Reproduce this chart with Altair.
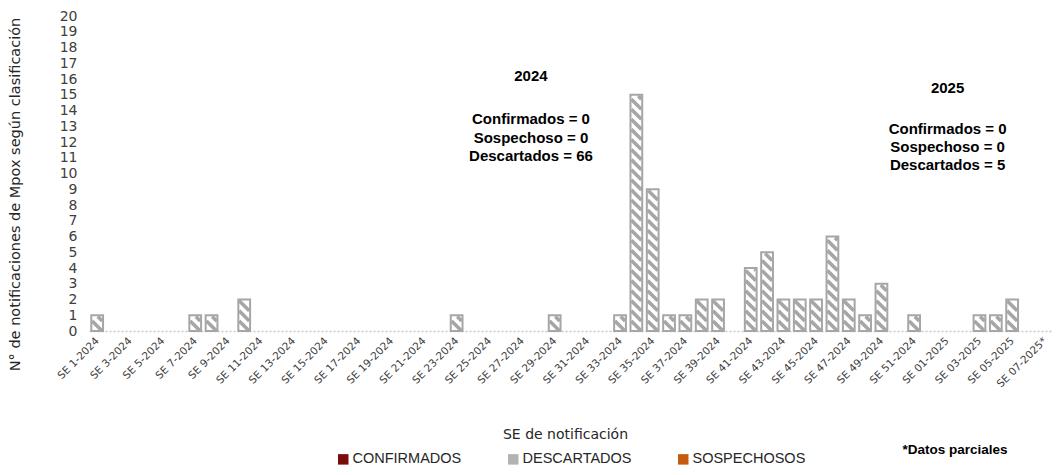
import altair as alt
import pandas as pd

# ---------------- data ----------------
weeks_2024 = [f"SE {i}-2024" for i in range(1, 53)]
weeks_2025 = ["SE 01-2025", "SE 02-2025", "SE 03-2025", "SE 04-2025",
              "SE 05-2025", "SE 06-2025", "SE 07-2025*"]
categories = weeks_2024 + weeks_2025

descartados_2024 = [1, 0, 0, 0, 0, 0, 1, 1, 0, 2,
                    0, 0, 0, 0, 0, 0, 0, 0, 0, 0,
                    0, 0, 1, 0, 0, 0, 0, 0, 1, 0,
                    0, 0, 1, 15, 9, 1, 1, 2, 2, 0,
                    4, 5, 2, 2, 2, 6, 2, 1, 3, 0,
                    1, 0]
descartados_2025 = [0, 0, 1, 1, 2, 0, 0]
descartados = descartados_2024 + descartados_2025

legend_classes = ["CONFIRMADOS", "DESCARTADOS", "SOSPECHOSOS"]
legend_colors = ["#7b0c0c", "#b3b3b3", "#c55a11"]

ann_text = ["2024", "Confirmados = 0", "Sospechoso = 0", "Descartados = 66",
            "2025", "Confirmados = 0", "Sospechoso = 0", "Descartados = 5"]
ann_x = [26.55, 26.55, 26.55, 26.55, 52.05, 52.05, 52.05, 52.05]
ann_y = [16.2, 13.45, 12.25, 11.1, 15.4, 12.85, 11.7, 10.55]

# ---------------- derived tables ----------------
n = len(categories)
HW = 0.36          # half bar width (category units)
IHW = 0.31         # inner half width for hatch
bar_rows = []
for i, v in enumerate(descartados):
    if v > 0:
        bar_rows.append({"cat": categories[i], "x0": i - HW, "x1": i + HW, "v": v, "cls": "DESCARTADOS"})
bars_df = pd.DataFrame(bar_rows)

# diagonal hatch segments clipped inside each bar (styling derived from values)
D = 0.64   # vertical drop across the bar
P = 0.64   # vertical period
hatch = []
for r in bar_rows:
    i = (r["x0"] + r["x1"]) / 2
    top = r["v"] - 0.08
    k = -3
    while True:
        yl = k * P + D
        if yl - D > top:
            break
        t0 = max(0.0, (yl - top) / D)
        t1 = min(1.0, yl / D)
        if t1 > t0:
            hatch.append({"hx1": i - IHW + t0 * 2 * IHW, "hy1": yl - t0 * D,
                          "hx2": i - IHW + t1 * 2 * IHW, "hy2": yl - t1 * D})
        k += 1
hatch_df = pd.DataFrame(hatch)

ann_df = pd.DataFrame({"x": ann_x, "y": ann_y, "t": ann_text})
leg_df = pd.DataFrame({"cls": legend_classes, "x": [0, 0, 0], "y": [0, 0, 0]})

label_array = "[" + ",".join("'" + c + "'" for c in categories) + "]"

xs = alt.Scale(domain=[-0.5, n - 0.5], nice=False, zero=False)
ys = alt.Scale(domain=[0, 20], nice=False, zero=True)

GRAY = "#a6a6a6"
TXT = "#404040"

x_axis = alt.Axis(
    values=list(range(0, n, 2)),
    labelExpr=label_array + "[datum.value]",
    labelAngle=-45, labelAlign="right", labelBaseline="middle",
    labelFont="DejaVu Sans", labelFontSize=10.5, labelColor=TXT,
    labelPadding=8, labelOverlap=False, labelBound=False, labelFlush=False,
    ticks=False, grid=False,
    domainColor="#c8c8c8", domainWidth=1.5, domainDash=[2, 2],
    title="SE de notificación", titleFont="DejaVu Sans", titleFontSize=14,
    titleFontWeight="normal", titleColor="#262626",
    titleX=476, titleY=103, titleAnchor="middle", titleAlign="center", titleBaseline="middle",
)
y_axis = alt.Axis(
    values=list(range(0, 21)),
    labelFont="DejaVu Sans", labelFontSize=14, labelColor=TXT, labelPadding=12,
    ticks=False, grid=False, domain=False,
    title="N° de notificaciones de Mpox según clasificación",
    titleFont="DejaVu Sans", titleFontSize=14.5, titleFontWeight="normal", titleColor="#262626",
    titleX=-74, titleY=178, titleAngle=-90, titleAlign="center", titleBaseline="middle",
)

X = lambda f: alt.X(f, scale=xs, axis=x_axis)
Y = lambda f: alt.Y(f, scale=ys, axis=y_axis)

base_fill = alt.Chart(bars_df).mark_bar(fill="white", strokeWidth=0).encode(
    x=X("x0:Q"), x2="x1:Q", y=Y("v:Q"), y2=alt.datum(0),
)

hatch_layer = alt.Chart(hatch_df).mark_rule(color=GRAY, strokeWidth=3.6, strokeCap="butt").encode(
    x=X("hx1:Q"), x2="hx2:Q", y=Y("hy1:Q"), y2="hy2:Q",
)

outline = alt.Chart(bars_df).mark_bar(fill="transparent", stroke=GRAY, strokeWidth=2).encode(
    x=X("x0:Q"), x2="x1:Q", y=Y("v:Q"), y2=alt.datum(0),
)

legend_layer = alt.Chart(leg_df).mark_square(opacity=0, size=10).encode(
    x=X("x:Q"),
    y=Y("y:Q"),
    color=alt.Color("cls:N", scale=alt.Scale(domain=legend_classes, range=legend_colors),
                    legend=alt.Legend(
                        title=None, orient="none", legendX=247, legendY=436,
                        direction="horizontal", columns=3, gridAlign="all",
                        columnPadding=40, symbolType="square", symbolSize=110,
                        symbolOpacity=1, symbolStrokeWidth=0, labelFont="Liberation Sans",
                        labelFontSize=14.5, labelColor="#262626", labelOffset=2,
                        labelLimit=300, padding=0)),
)

ann_layer = alt.Chart(ann_df).mark_text(
    font="Liberation Sans", fontSize=15, fontWeight="bold", color="#000000",
    align="center", baseline="middle").encode(
    x=X("x:Q"), y=Y("y:Q"), text="t:N",
)

note_layer = alt.Chart(pd.DataFrame({"t": ["*Datos parciales"]})).mark_text(
    font="Liberation Sans", fontSize=13.5, fontWeight="bold", color="#000000",
    align="center", baseline="middle").encode(
    x=alt.value(866), y=alt.value(434), text="t:N",
)

chart = alt.layer(base_fill, hatch_layer, outline, legend_layer, ann_layer, note_layer).properties(
    width=964, height=315,
    background="white",
    autosize=alt.AutoSizeParams(type="none"),
    padding={"left": 81, "top": 8, "right": 0, "bottom": 135},
).configure_view(strokeWidth=0, stroke="transparent")

chart.save("out.html", embed_options={"renderer": "svg", "actions": False})
